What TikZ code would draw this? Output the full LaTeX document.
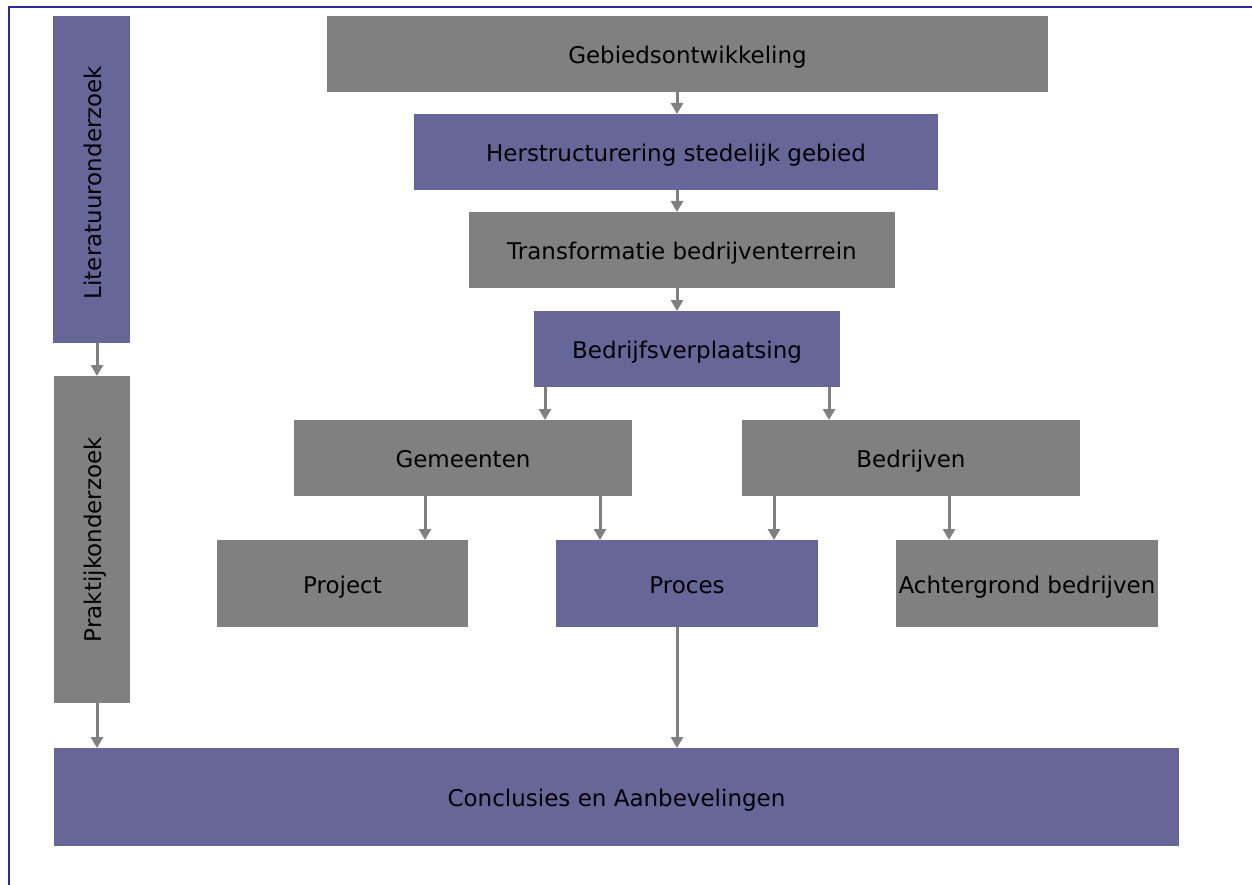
\documentclass[tikz,border=0pt]{standalone}
\usepackage{fontspec}
\setmainfont{DejaVu Sans}
\usetikzlibrary{arrows.meta}
\definecolor{boxgray}{HTML}{808080}
\definecolor{boxpurple}{HTML}{666699}
\definecolor{framecol}{HTML}{2B2BA0}
\definecolor{arrcol}{HTML}{808080}
\tikzset{
  lbl/.style={inner sep=0pt, outer sep=0pt, text=black, text height=19pt, text depth=0pt,
    font=\fontsize{23}{27}\selectfont},
  base/.style={lbl, anchor=north west},
  gbox/.style={base, fill=boxgray},
  pbox/.style={base, fill=boxpurple},
  arr/.style={draw=arrcol, line width=3pt, -{Triangle[width=12pt,length=11pt]}},
}
\begin{document}
\begin{tikzpicture}[x=1pt,y=-1pt]
\useasboundingbox (0,0) rectangle (1252,885);
\fill[white] (0,0) rectangle (1252,885);
\draw[framecol, line width=2pt] (8.5,885) -- (8.5,7.5) -- (1252,7.5);

\node[gbox, minimum width=721pt, minimum height=76pt] (geb) at (327,16) {Gebiedsontwikkeling};
\node[pbox, minimum width=524pt, minimum height=76pt] (her) at (414,114) {Herstructurering stedelijk gebied};
\node[gbox, minimum width=426pt, minimum height=76pt] (tra) at (469,212) {Transformatie bedrijventerrein};
\node[pbox, minimum width=306pt, minimum height=76pt] (bed) at (534,311) {Bedrijfsverplaatsing};
\node[gbox, minimum width=338pt, minimum height=76pt] (gem) at (294,420) {Gemeenten};
\node[gbox, minimum width=338pt, minimum height=76pt] (bdr) at (742,420) {Bedrijven};
\node[gbox, minimum width=251pt, minimum height=87pt] (pro) at (217,540) {Project};
\node[pbox, minimum width=262pt, minimum height=87pt] (prc) at (556,540) {Proces};
\node[gbox, minimum width=262pt, minimum height=87pt] (ach) at (896,540) {Achtergrond bedrijven};
\node[pbox, minimum width=1125pt, minimum height=98pt] (con) at (54,748) {Conclusies en Aanbevelingen};
\node[pbox, minimum width=77pt, minimum height=327pt] (lit) at (53,16) {};
\node[lbl, rotate=90] (littxt) at ([yshift=-3pt]lit.center) {Literatuuronderzoek};
\node[gbox, minimum width=76pt, minimum height=327pt] (pra) at (54,376) {};
\node[lbl, rotate=90] (pratxt) at (pra.center) {Praktijkonderzoek};

\coordinate (xa) at (677,0);
\coordinate (xb) at (545,0);
\coordinate (xc) at (829,0);
\coordinate (xd) at (425,0);
\coordinate (xe) at (600,0);
\coordinate (xf) at (774,0);
\coordinate (xg) at (949,0);
\coordinate (xh) at (97,0);

\draw[arr] (geb.south -| xa) -- (her.north -| xa);
\draw[arr] (her.south -| xa) -- (tra.north -| xa);
\draw[arr] (tra.south -| xa) -- (bed.north -| xa);
\draw[arr] (bed.south -| xb) -- (gem.north -| xb);
\draw[arr] (bed.south -| xc) -- (bdr.north -| xc);
\draw[arr] (gem.south -| xd) -- (pro.north -| xd);
\draw[arr] (gem.south -| xe) -- (prc.north -| xe);
\draw[arr] (bdr.south -| xf) -- (prc.north -| xf);
\draw[arr] (bdr.south -| xg) -- (ach.north -| xg);
\draw[arr] (prc.south -| xa) -- (con.north -| xa);
\draw[arr] (lit.south -| xh) -- (pra.north -| xh);
\draw[arr] (pra.south -| xh) -- (con.north -| xh);
\end{tikzpicture}
\end{document}
